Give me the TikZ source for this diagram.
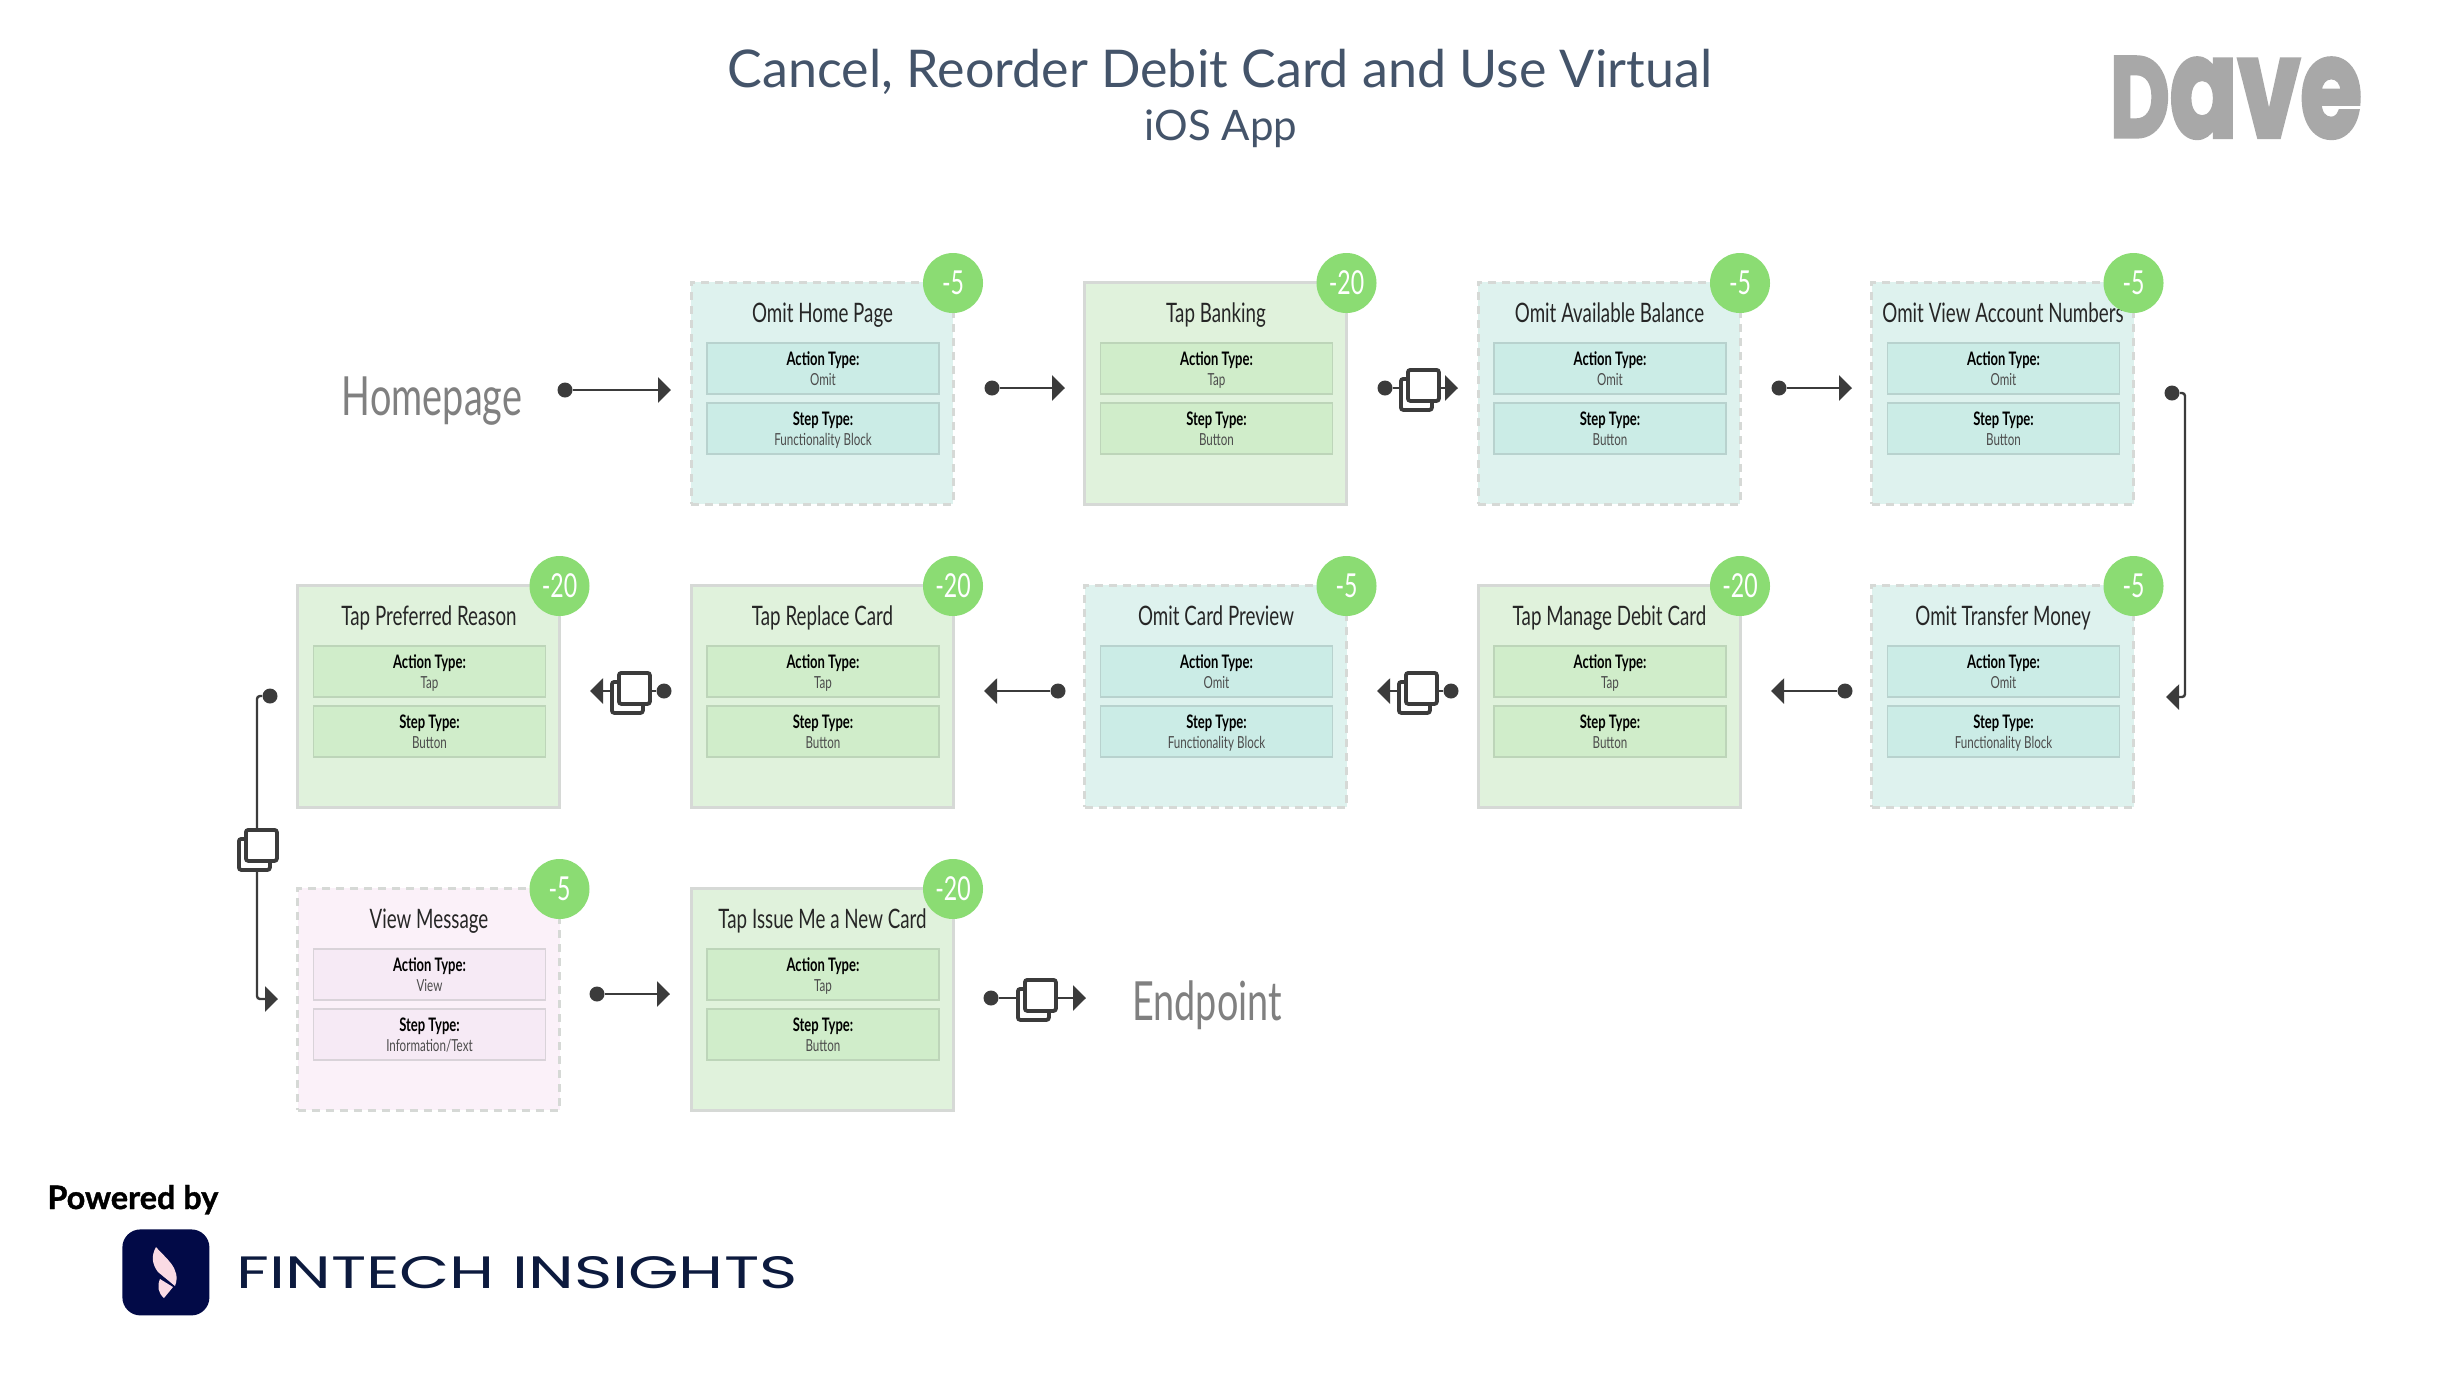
\documentclass[tikz,border=0pt]{standalone}
\usepackage{fontspec}
\usetikzlibrary{arrows.meta,calc}
\setmainfont{Lato}
\newfontfamily\dosis{Lato}[FakeStretch=0.7]
\newfontfamily\logofont{Poppins}[BoldFeatures={FakeBold=3}]
\newfontfamily\brandfont{Poppins}[FakeStretch=1.22]
\newfontfamily\poweredfont{Lato}[BoldFeatures={FakeBold=1.2}]
\definecolor{tealfill}{HTML}{DEF2EE}\definecolor{tealin}{HTML}{CBECE6}\definecolor{tealline}{HTML}{B8D2CE}
\definecolor{greenfill}{HTML}{E0F2DC}\definecolor{greenin}{HTML}{D0EDCA}\definecolor{greenline}{HTML}{BDD5B9}
\definecolor{pinkfill}{HTML}{FBF1F9}\definecolor{pinkin}{HTML}{F6EAF5}\definecolor{pinkline}{HTML}{D9D3D9}
\definecolor{cardline}{HTML}{D6D9D6}\definecolor{badge}{HTML}{8BDC73}\definecolor{ink}{HTML}{3B3B3B}
\definecolor{titleink}{HTML}{44546A}\definecolor{navy}{HTML}{020A47}\definecolor{petal}{HTML}{FADBE4}
\definecolor{brandink}{HTML}{0C1A3E}
\tikzset{
  x=.5pt,y=-.5pt,
  cardbox/.style={draw=cardline,line width=1.5pt,minimum width=131pt,minimum height=111pt,anchor=north west,inner sep=0pt},
  teal/.style={cardbox,fill=tealfill,dashed,dash pattern=on 4pt off 3pt},
  green/.style={cardbox,fill=greenfill},
  pink/.style={cardbox,fill=pinkfill,dashed,dash pattern=on 4pt off 3pt},
  inbox/.style={line width=.9pt,minimum width=116pt,minimum height=25.5pt,anchor=north west,inner sep=0pt},
  cardtitle/.style={font=\dosis\fontsize{13.4}{15}\selectfont,text=black!85,inner sep=0pt,anchor=base},
  fieldlabel/.style={font=\dosis\bfseries\fontsize{9.3}{11}\selectfont,text=black,inner sep=0pt,anchor=base},
  fieldvalue/.style={font=\dosis\fontsize{8.3}{10}\selectfont,text=black!70,inner sep=0pt,anchor=base},
  scorebadge/.style={circle,fill=badge,minimum size=30pt,inner sep=0pt,text=white,font=\dosis\fontsize{16.5}{18}\selectfont},
  startdot/.style={circle,fill=ink,minimum size=7.5pt,inner sep=0pt},
  flow/.style={draw=ink,line width=1.2pt,-{Triangle[length=6.5pt,width=12.5pt]}},
  iconbox/.style={draw=ink,fill=white,line width=1.9pt,rounded corners=1.2pt,minimum width=15.5pt,minimum height=15.5pt,anchor=north west,inner sep=0pt},
  sidelabel/.style={font=\dosis\fontsize{27}{29}\selectfont,text=black!50,inner sep=0pt,anchor=base},
}
% name, x, y, style, colour prefix, title, action, step, score
\newcommand{\flowcard}[9]{%
  \node[#4] (#1) at (#2-1.5,#3-1.5) {};
  \node[inbox,fill=#5in,draw=#5line] (#1a) at (#2+15,#3+60) {};
  \node[inbox,fill=#5in,draw=#5line] (#1b) at (#2+15,#3+120) {};
  \node[cardtitle] (#1t) at (#2+131.5,#3+40) {#6};
  \node[fieldlabel] (#1al) at (#2+132,#3+83) {Action Type:};
  \node[fieldvalue] (#1av) at (#2+132,#3+103) {#7};
  \node[fieldlabel] (#1bl) at (#2+132,#3+143.5) {Step Type:};
  \node[fieldvalue] (#1bv) at (#2+132,#3+163) {#8};
  \node[scorebadge] (#1s) at (#2+262,#3+1) {#9};
}
\newcommand{\copyicon}[3]{%
  \node[iconbox] (#1b) at (#2,#3-11) {};
  \node[iconbox] (#1f) at (#2+7,#3-20) {};
}
% name, dot x, dot y, tip x, tip y
\newcommand{\link}[5]{%
  \node[startdot] (#1s) at (#2,#3) {};
  \coordinate (#1e) at (#4,#5);
  \draw[flow] (#1s) -- (#1e);
}
\begin{document}
\begin{tikzpicture}
\path[use as bounding box,fill=white] (0,0) rectangle (2440,1373);
\node[font=\fontsize{26}{30}\selectfont,text=titleink,inner sep=0pt] (title) at (1220,72) {Cancel, Reorder Debit Card and Use Virtual};
\node[font=\fontsize{21}{25}\selectfont,text=titleink,inner sep=0pt] (subtitle) at (1221,129) {iOS App};
\node[inner sep=0pt,text=black!34] (dave) at (2236,97.5) {\resizebox{126pt}{40pt}{\logofont\bfseries D\scalebox{1.22}{ave}}};
\node[sidelabel] (home) at (432,415) {Homepage};
\node[sidelabel] (end) at (1207,1020) {Endpoint};
% cards
\flowcard{c1}{691}{282}{teal}{teal}{Omit Home Page}{Omit}{Functionality Block}{-5}
\flowcard{c2}{1084.5}{282}{green}{green}{Tap Banking}{Tap}{Button}{-20}
\flowcard{c3}{1478}{282}{teal}{teal}{Omit Available Balance}{Omit}{Button}{-5}
\flowcard{c4}{1871.5}{282}{teal}{teal}{Omit View Account Numbers}{Omit}{Button}{-5}
\flowcard{c5}{1871.5}{585}{teal}{teal}{Omit Transfer Money}{Omit}{Functionality Block}{-5}
\flowcard{c6}{1478}{585}{green}{green}{Tap Manage Debit Card}{Tap}{Button}{-20}
\flowcard{c7}{1084.5}{585}{teal}{teal}{Omit Card Preview}{Omit}{Functionality Block}{-5}
\flowcard{c8}{691}{585}{green}{green}{Tap Replace Card}{Tap}{Button}{-20}
\flowcard{c9}{297.5}{585}{green}{green}{Tap Preferred Reason}{Tap}{Button}{-20}
\flowcard{c10}{297.5}{888}{pink}{pink}{View Message}{View}{Information/Text}{-5}
\flowcard{c11}{691}{888}{green}{green}{Tap Issue Me a New Card}{Tap}{Button}{-20}
% connectors row 1
\link{l0}{565}{390}{671}{390}
\link{l1}{992}{388}{1065}{388}
\link{l2}{1385}{388}{1458}{388}\copyicon{i2}{1399}{388}
\link{l3}{1779}{388}{1852}{388}
% turn right
\node[startdot] (rs) at (2172,393) {};
\coordinate (re) at (2166,697);
\coordinate (rv) at (2185,545);
\draw[flow,rounded corners=1.5pt] (rs) -- (rs -| rv) -- (re -| rv) -- (re);
% row 2
\link{l5}{1845}{691}{1771}{691}
\link{l6}{1451}{691}{1377}{691}\copyicon{i6}{1397}{691}
\link{l7}{1058}{691}{984}{691}
\link{l8}{664}{691}{590}{691}\copyicon{i8}{610}{691}
% turn left
\node[startdot] (ls) at (270,696) {};
\coordinate (le) at (278,999);
\coordinate (lv) at (257,850);
\draw[flow,rounded corners=1.5pt] (ls) -- (ls -| lv) -- (le -| lv) -- (le);
\copyicon{i9}{237}{848}
% row 3
\link{l10}{597}{994}{670}{994}
\link{l11}{991}{998}{1086}{998}\copyicon{i11}{1016}{998}
% branding
\node[font=\poweredfont\bfseries\fontsize{16.2}{19}\selectfont,text=black,anchor=base west,inner sep=0pt] (powered) at (47,1209) {Powered by};
\node[fill=navy,rounded corners=9pt,minimum width=43.5pt,minimum height=43pt,inner sep=0pt,anchor=north west] (mark) at (122,1229) {};
\fill[petal] (156,1247) .. controls (164,1257) and (182,1268) .. (175,1286) -- (158,1272) .. controls (152,1264) and (151,1256) .. (156,1247) -- cycle;
\fill[petal] (160,1279) -- (173,1287) -- (164,1298) .. controls (158,1293) and (157,1286) .. (160,1279) -- cycle;
\node[inner sep=0pt,text=brandink,anchor=west] (brand) at (236,1273) {\resizebox{280.5pt}{16pt}{\brandfont FINTECH INSIGHTS}};
\end{tikzpicture}
\end{document}
